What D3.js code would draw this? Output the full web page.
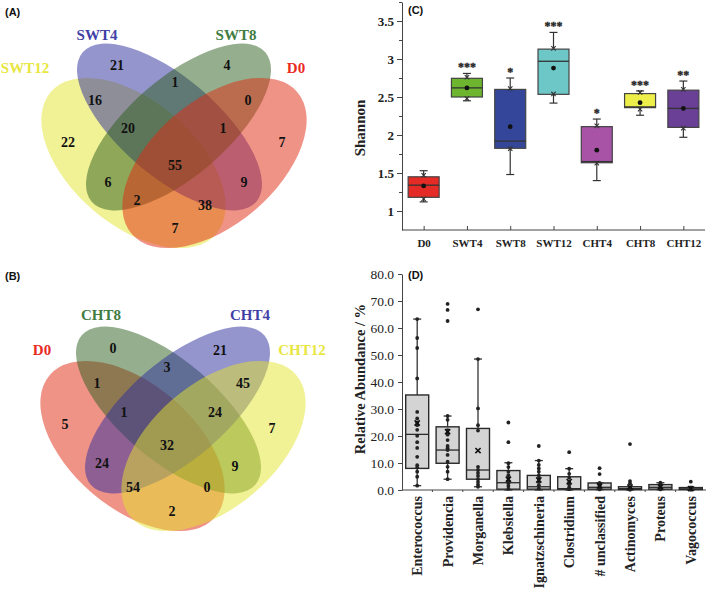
<!DOCTYPE html>
<html><head><meta charset="utf-8">
<script src="https://cdn.jsdelivr.net/npm/d3@7"></script>
<style>
body{margin:0;background:#fff}
svg{display:block}
text{font-family:"Liberation Serif","Times New Roman",serif}
</style>
</head><body>
<svg id="chart" width="709" height="590"></svg>
<script>
// ---------------- DATA ----------------
// Venn regions order: outerL only, innerL only, innerR only, outerR only, iL&iR, oL&iL, iR&oR,
// oL&iL&iR, iL&iR&oR, all four, oL&iR, iL&oR, oL&iR&oR, oL&iL&oR, oL&oR
const vennASets = ["SWT12","SWT4","SWT8","D0"];          // oL, iL, iR, oR
const vennACounts = [22,21,4,7,1,16,0,20,1,55,6,9,2,38,7];
const vennBSets = ["D0","CHT8","CHT4","CHT12"];          // oL, iL, iR, oR
const vennBCounts = [5,0,21,7,3,1,45,1,24,32,24,9,54,0,2];

const shannonGroups = ["D0","SWT4","SWT8","SWT12","CHT4","CHT8","CHT12"];
const shannonQ1     = [1.18,2.50,1.825,2.535,1.635,2.36,2.10];
const shannonMedian = [1.34,2.62,1.92,2.97,1.65,2.37,2.35];
const shannonQ3     = [1.45,2.746,2.60,3.13,2.11,2.545,2.59];
const shannonMin    = [1.12,2.45,1.48,2.42,1.40,2.26,1.97];
const shannonMax    = [1.53,2.81,2.75,3.35,2.21,2.58,2.71];
const shannonMean   = [1.33,2.62,2.11,2.88,1.80,2.425,2.35];
const shannonHiMark = [1.47,2.76,2.61,3.14,2.12,2.56,2.60];
const shannonLoMark = [1.16,2.48,1.82,2.54,1.63,2.34,2.09];
const shannonSig    = ["","***","*","***","*","***","**"];
const shannonTicks  = [1,1.5,2,2.5,3,3.5];

const genera = ["Enterococcus","Providencia","Morganella","Klebsiella","Ignatzschineria","Clostridium","# unclassified","Actinomyces","Proteus","Vagococcus"];
const abQ1     = [8.0,9.9,4.0,0.3,0.3,0.3,0.3,0.2,0.3,0.2];
const abMedian = [20.6,14.8,7.4,2.7,1.2,0.5,1.0,0.5,1.0,0.4];
const abQ3     = [35.2,23.4,22.8,7.2,5.4,4.9,2.6,1.2,2.0,0.9];
const abLow    = [1.6,4.0,1.2,0.0,0.0,0.0,0.1,0.0,0.1,0.0];
const abHigh   = [63.3,27.4,48.5,10.1,10.9,7.9,2.6,1.2,2.7,1.0];
const abMean   = [24.8,21.6,14.6,4.0,3.7,3.1,1.5,1.1,1.2,0.5];
const abPoints = [
  [63.3,56.3,52.6,41.3,28.9,26.5,25.0,24.0,22.3,20.1,17.7,15.6,12.3,9.2,8.3,6.8,4.9,1.6],
  [68.9,66.7,62.6,27.4,26.0,22.2,21.2,20.5,18.5,16.3,15.5,14.8,13.0,10.5,8.6,6.8,4.0],
  [66.9,48.5,30.2,24.0,22.0,8.6,7.4,6.3,5.2,4.0,3.0,2.0,1.2],
  [25.0,17.7,9.9,8.5,6.8,5.5,4.5,3.5,2.5,1.5,0.5],
  [16.3,10.9,9.3,8.0,6.8,5.4,4.2,3.0,1.8,0.6],
  [14.0,7.9,6.0,4.5,3.0,2.0,1.0,0.3],
  [8.1,5.9,2.6,1.8,1.2,0.6,0.2],
  [17.0,3.3,2.5,1.0,0.6,0.3,0.1],
  [2.7,2.0,1.5,1.0,0.5,0.2],
  [3.1,1.0,0.6,0.3,0.1]
];
const abTicks = [0,10,20,30,40,50,60,70,80];

// ---------------- LAYOUT / STYLE ----------------
const svg = d3.select("#chart");
const serif = '"Liberation Serif","Times New Roman",serif';
const sans = '"Liberation Sans",Arial,sans-serif';

// Venn geometry (relative to panel origin)
const ellGeom = [
  {dx:-40.5, dy:0,   a:109,   b:62, rot: 40.5},
  {dx:-4.5,  dy:-36, a:114.5, b:49, rot: 40.7},
  {dx: 4.5,  dy:-36, a:114.5, b:49, rot:-40.7},
  {dx: 40.5, dy:0,   a:109,   b:62, rot:-40.5}
];
const regionPosA = [[-106,-21],[-57,-98],[53,-98],[108,-21],[1,-81],[-79,-63],[74,-63],[-46,-35],[49,-35],[1,2],[-66,19],[70,19],[-37,37],[31,42],[1,65]];
const regionPosB = [[-108,-22],[-60,-98],[47,-96],[99,-18],[-6,-79],[-76,-63],[70,-63],[-49,-34],[42,-34],[-6,-1],[-71,17],[62,20],[-40,41],[34,41],[-1,65]];

const fillYellow = "#e4e42c", fillBlue = "#2c2c9e", fillGreen = "#2b5e1c", fillRed = "#e2280f";
const txtYellow = "#e8e640", txtBlue = "#3f3fa6", txtGreen = "#3f7c3f", txtRed = "#ea2a1f";

function drawVenn(ox, oy, counts, sets, fills, txtColors, labelPos, regionPos){
  const g = svg.append("g").attr("transform",`translate(${ox},${oy})`);
  g.selectAll("ellipse").data(ellGeom).join("ellipse")
    .attr("transform", (d)=>`translate(${d.dx},${d.dy}) rotate(${d.rot})`)
    .attr("rx", d=>d.a).attr("ry", d=>d.b)
    .attr("fill", (d,i)=>fills[i]).attr("fill-opacity",0.5);
  g.selectAll("text.num").data(counts).join("text").attr("class","num")
    .attr("x",(d,i)=>regionPos[i][0]).attr("y",(d,i)=>regionPos[i][1])
    .attr("text-anchor","middle").attr("dominant-baseline","central")
    .style("font-family",serif).style("font-weight","bold").style("font-size","14px")
    .attr("fill","#111").text(d=>d);
  svg.selectAll(null).data(sets).join("text")
    .attr("x",(d,i)=>labelPos[i][0]).attr("y",(d,i)=>labelPos[i][1])
    .attr("text-anchor","middle").attr("dominant-baseline","central")
    .style("font-family",serif).style("font-weight","bold").style("font-size","15px")
    .attr("fill",(d,i)=>txtColors[i]).text(d=>d);
}

drawVenn(174,163,vennACounts,vennASets,[fillYellow,fillBlue,fillGreen,fillRed],
  [txtYellow,txtBlue,txtGreen,txtRed],[[25,68],[97,35],[236,35],[296,68]],regionPosA);
drawVenn(173,446,vennBCounts,vennBSets,[fillRed,fillGreen,fillBlue,fillYellow],
  [txtRed,txtGreen,txtBlue,txtYellow],[[42,350],[101,315],[250,315],[302,350]],regionPosB);

// panel letters
[["(A)",5,12],["(B)",5,276],["(C)",408,10],["(D)",408,275]].forEach(([t,x,y])=>{
  svg.append("text").attr("x",x).attr("y",y).attr("dominant-baseline","central")
    .style("font-family",sans).style("font-weight","bold").style("font-size","11px")
    .attr("fill","#111").text(t);
});

// ---------------- PANEL C ----------------
const xC = d3.scalePoint().domain(shannonGroups).range([402,705]).padding(0.5);
const yC = d3.scaleLinear().domain([0.75,3.75]).range([230,2]);
const colC = ["#e52b25","#6db52e","#34469a","#6cc7c6","#a853a6","#eeee4a","#6a3f96"];
const gC = svg.append("g");

const axC = gC.append("g").attr("transform","translate(402,0)")
  .call(d3.axisLeft(yC).tickValues(shannonTicks).tickFormat(d=>String(d)).tickSize(5).tickSizeOuter(0).tickPadding(3));
axC.selectAll("text").style("font-family",serif).style("font-weight","bold").style("font-size","13px").attr("fill","#222");
axC.selectAll("line,path").attr("stroke","#444");
const axCm = gC.append("g").attr("transform","translate(402,0)")
  .call(d3.axisLeft(yC).tickValues([1.25,1.75,2.25,2.75,3.25,3.75]).tickFormat("").tickSize(3).tickSizeOuter(0));
axCm.select(".domain").remove();
axCm.selectAll("line").attr("stroke","#444");

const axCx = gC.append("g").attr("transform","translate(0,230)")
  .call(d3.axisBottom(xC).tickSize(-4).tickSizeOuter(0).tickPadding(9));
axCx.select(".domain").attr("d","M402,0H705");
axCx.selectAll("line,path").attr("stroke","#444");
axCx.selectAll("text").style("font-family",serif).style("font-weight","bold").style("font-size","11px").attr("fill","#222");

gC.append("text").attr("transform","translate(360,128) rotate(-90)").attr("text-anchor","middle")
  .attr("dominant-baseline","central")
  .style("font-family",serif).style("font-weight","bold").style("font-size","15px").attr("fill","#222").text("Shannon");

const bwC = 31, capC = 8;
shannonGroups.forEach((g,i)=>{
  const cx = xC(g);
  const s = gC.append("g");
  s.append("line").attr("x1",cx).attr("x2",cx).attr("y1",yC(shannonQ3[i])).attr("y2",yC(shannonMax[i])).attr("stroke","#333").attr("stroke-width",1.2);
  s.append("line").attr("x1",cx).attr("x2",cx).attr("y1",yC(shannonQ1[i])).attr("y2",yC(shannonMin[i])).attr("stroke","#333").attr("stroke-width",1.2);
  [shannonMax[i],shannonMin[i]].forEach(v=>{
    s.append("line").attr("x1",cx-capC/2).attr("x2",cx+capC/2).attr("y1",yC(v)).attr("y2",yC(v)).attr("stroke","#333").attr("stroke-width",1.2);
  });
  s.append("rect").attr("x",cx-bwC/2).attr("width",bwC)
    .attr("y",yC(shannonQ3[i])).attr("height",yC(shannonQ1[i])-yC(shannonQ3[i]))
    .attr("fill",colC[i]).attr("stroke","#444").attr("stroke-width",1.2);
  s.append("line").attr("x1",cx-bwC/2).attr("x2",cx+bwC/2).attr("y1",yC(shannonMedian[i])).attr("y2",yC(shannonMedian[i])).attr("stroke","#333").attr("stroke-width",1.3);
  [shannonHiMark[i],shannonLoMark[i]].forEach(v=>{
    const y=yC(v), r=2.2;
    s.append("path").attr("d",`M${cx-r},${y-r}L${cx+r},${y+r}M${cx-r},${y+r}L${cx+r},${y-r}`).attr("stroke","#333").attr("stroke-width",1.1);
  });
  s.append("circle").attr("cx",cx).attr("cy",yC(shannonMean[i])).attr("r",2.4).attr("fill","#111");
  if (shannonSig[i]) {
    s.append("text").attr("x",cx).attr("y",yC(shannonMax[i])-2).attr("text-anchor","middle")
      .style("font-family",serif).style("font-weight","bold").style("font-size","12px")
      .attr("fill","#222").attr("stroke","#222").attr("stroke-width",0.3).text(shannonSig[i]);
  }
});

// ---------------- PANEL D ----------------
const xD = d3.scaleBand().domain(genera).range([402,706]);
const yD = d3.scaleLinear().domain([0,80]).range([490,274]);
const gD = svg.append("g");
const axD = gD.append("g").attr("transform","translate(402,0)")
  .call(d3.axisLeft(yD).tickValues(abTicks).tickFormat(d3.format(".1f")).tickSize(4).tickSizeOuter(0).tickPadding(4));
axD.selectAll("text").style("font-family",serif).style("font-size","13.5px").attr("fill","#222");
axD.selectAll("line,path").attr("stroke","#444");
const axDx = gD.append("g").attr("transform","translate(0,490)")
  .call(d3.axisBottom(xD).tickSize(0).tickSizeOuter(0).tickPadding(0));
axDx.select(".domain").attr("d","M402,0H706").attr("stroke","#444");
axDx.selectAll(".tick text")
  .attr("transform","translate(0,6) rotate(-90)").attr("text-anchor","end").attr("dy","0.35em").attr("y",0).attr("x",0)
  .style("font-family",serif).style("font-weight","bold").style("font-size","14px").attr("fill","#222");
gD.selectAll("line.bt").data(genera.slice(1)).join("line").attr("class","bt")
  .attr("x1",d=>xD(d)).attr("x2",d=>xD(d)).attr("y1",490).attr("y2",492).attr("stroke","#444");

gD.append("text").attr("transform","translate(360,379) rotate(-90)").attr("text-anchor","middle")
  .attr("dominant-baseline","central")
  .style("font-family",serif).style("font-weight","bold").style("font-size","14.5px").attr("fill","#222").text("Relative Abundance / %");

const bwD = 23, capD = 8;
genera.forEach((g,i)=>{
  const cx = xD(g) + xD.bandwidth()/2;
  const s = gD.append("g");
  s.append("line").attr("x1",cx).attr("x2",cx).attr("y1",yD(abQ3[i])).attr("y2",yD(abHigh[i])).attr("stroke","#333").attr("stroke-width",1.3);
  s.append("line").attr("x1",cx).attr("x2",cx).attr("y1",yD(abQ1[i])).attr("y2",yD(abLow[i])).attr("stroke","#333").attr("stroke-width",1.3);
  [abHigh[i],abLow[i]].forEach(v=>{
    s.append("line").attr("x1",cx-capD/2).attr("x2",cx+capD/2).attr("y1",yD(v)).attr("y2",yD(v)).attr("stroke","#333").attr("stroke-width",1.3);
  });
  s.append("rect").attr("x",cx-bwD/2).attr("width",bwD)
    .attr("y",yD(abQ3[i])).attr("height",Math.max(0.5,yD(abQ1[i])-yD(abQ3[i])))
    .attr("fill","#d4d4d4").attr("stroke","#2a2a2a").attr("stroke-width",1.4);
  s.append("line").attr("x1",cx-bwD/2).attr("x2",cx+bwD/2).attr("y1",yD(abMedian[i])).attr("y2",yD(abMedian[i])).attr("stroke","#2a2a2a").attr("stroke-width",1.3);
  s.selectAll("circle").data(abPoints[i]).join("circle")
    .attr("cx",cx).attr("cy",d=>yD(d)).attr("r",1.9).attr("fill","#222");
  const y=yD(abMean[i]), r=2.6;
  s.append("path").attr("d",`M${cx-r},${y-r}L${cx+r},${y+r}M${cx-r},${y+r}L${cx+r},${y-r}`).attr("stroke","#111").attr("stroke-width",1.6);
});
</script>
</body></html>
